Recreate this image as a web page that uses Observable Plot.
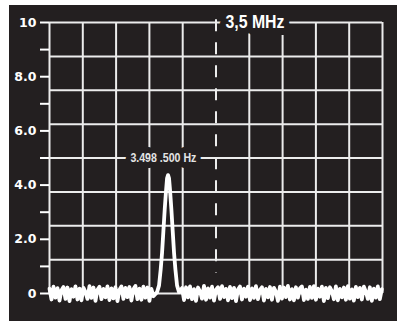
<!DOCTYPE html>
<html>
<head>
<meta charset="utf-8">
<script src="https://cdn.jsdelivr.net/npm/d3@7"></script>
<script src="https://cdn.jsdelivr.net/npm/@observablehq/plot@0.6"></script>
<style>
  html, body { margin: 0; padding: 0; background: #ffffff; }
  #wrap { position: absolute; left: 9px; top: 5px; width: 388px; height: 316px; background: #231f20; }
</style>
</head>
<body>
<div id="wrap"></div>
<script>
// Frequency axis in kHz (centre 3,5 MHz), one grid division = 1 kHz
const xGridTicks = [3495, 3496, 3497, 3498, 3499, 3501, 3502, 3503, 3504, 3505];
const centerFreq = 3500;
const yGridTicks = [0, 1.25, 2.5, 3.75, 5, 6.25, 7.5, 8.75, 10];
const yTicks = [0, 1, 2, 3, 4, 5, 6, 7, 8, 9, 10];
const yTickLabels = {0: "0", 2: "2.0", 4: "4.0", 6: "6.0", 8: "8.0", 10: "10"};

const noiseStep = 0.06;
const noiseLeftStart = 3495.0;
const noiseLeft = [0.18,-0.22,0.25,-0.15,0.20,-0.26,0.12,0.24,-0.20,0.22,-0.28,0.16,-0.12,0.26,-0.22,0.18,-0.25,0.21,0.05,-0.20,0.27,-0.16,0.22,-0.27,0.14,0.25,-0.21,0.17,-0.14,0.26,-0.24,0.19,-0.18,0.23,-0.28,0.13,0.26,-0.20,0.21,-0.13,0.24,-0.26,0.16,0.28,-0.21,0.18,-0.23,0.25,-0.15,0.22,-0.27,0.17,-0.10];
const noiseRightStart = 3498.98;
const noiseRight = [0.20,-0.24,0.23,-0.14,0.26,-0.21,0.16,-0.27,0.22,0.08,-0.19,0.28,-0.23,0.19,-0.15,0.25,-0.26,0.14,0.23,-0.20,0.27,-0.13,0.17,-0.25,0.24,-0.17,0.21,-0.28,0.15,0.26,-0.22,0.18,-0.12,0.25,-0.24,0.19,-0.16,0.27,-0.21,0.13,0.23,-0.26,0.17,-0.14,0.24,-0.23,0.21,0.06,-0.27,0.25,-0.19,0.22,-0.13,0.28,-0.22,0.16,-0.25,0.23,-0.15,0.19,0.26,-0.24,0.14,-0.20,0.24,-0.16,0.27,-0.23,0.18,-0.12,0.25,-0.28,0.21,-0.17,0.23,0.09,-0.21,0.26,-0.25,0.17,-0.14,0.22,-0.23,0.27,-0.19,0.15,-0.26,0.24,-0.13,0.21,-0.22,0.25,0.07,-0.20,0.23,-0.27,0.18,-0.15,0.26,-0.21,0.16];

// peak
const peakX = [3498.23,3498.29,3498.34,3498.38,3498.42,3498.46,3498.50,3498.53,3498.56,3498.59,3498.62,3498.66,3498.70,3498.74,3498.78,3498.83,3498.89];
const peakY = [0.05,0.3,0.9,1.5,2.3,3.1,3.8,4.25,4.37,4.25,3.8,3.1,2.3,1.5,0.9,0.3,0.05];

const labels = [
  {x: 3501.17, y: 10, text: "3,5 MHz", fill: "#ffffff"},
  {x: 3498.42, y: 5, text: "3.498 .500 Hz", fill: "#e4e4e4"}
];
const labelWidths = {"3,5 MHz": 59, "3.498 .500 Hz": 66};

const spectrum = [
  ...noiseLeft.map((v, i) => ({f: noiseLeftStart + i * noiseStep, a: v})),
  ...peakX.map((f, i) => ({f, a: peakY[i]})),
  ...noiseRight.map((v, i) => ({f: noiseRightStart + i * noiseStep, a: v}))
];

const gridStyle = {stroke: "#ececec", strokeOpacity: 1, strokeWidth: 2};

const chart = Plot.plot({
  width: 388,
  height: 316,
  marginLeft: 40,
  marginRight: 15,
  marginTop: 17,
  marginBottom: 28,
  style: {background: "transparent", color: "#ffffff", overflow: "visible"},
  x: {domain: [3495, 3505], axis: null},
  y: {domain: [0, 10], axis: null},
  marks: [
    Plot.gridX(xGridTicks, gridStyle),
    Plot.gridY(yGridTicks, gridStyle),
    Plot.ruleX([centerFreq], {y1: 10.1, y2: 0.75, stroke: "#ececec", strokeWidth: 2, strokeDasharray: "12,11"}),
    Plot.axisY(yTicks, {
      tickSize: 9, tickPadding: 4, stroke: "#ffffff", strokeWidth: 2,
      tickFormat: d => yTickLabels[d] ?? "",
      fontFamily: "DejaVu Sans", fontWeight: "bold", fontSize: 12.5, fill: "#ffffff"
    }),
    Plot.line(spectrum, {x: "f", y: "a", stroke: "#ffffff", strokeWidth: 3.8, strokeLinejoin: "round", strokeLinecap: "round"}),
    Plot.text(labels.slice(0, 1), {x: "x", y: "y", text: "text", fill: "fill", fontSize: 18.5, fontWeight: "bold",
      fontFamily: "Liberation Sans, Arial, sans-serif",
      stroke: "#231f20", strokeWidth: 14, textAnchor: "middle"}),
    Plot.text(labels.slice(1), {x: "x", y: "y", text: "text", fill: "fill", fontSize: 12.5, fontWeight: "bold",
      fontFamily: "Liberation Sans, Arial, sans-serif",
      stroke: "#231f20", strokeWidth: 12, textAnchor: "middle"})
  ]
});
// condensed lettering, as in the original
d3.select(chart).selectAll("text").each(function () {
  const w = labelWidths[this.textContent];
  if (w) {
    this.setAttribute("textLength", w);
    this.setAttribute("lengthAdjust", "spacingAndGlyphs");
  }
});
document.getElementById("wrap").appendChild(chart);
</script>
</body>
</html>
